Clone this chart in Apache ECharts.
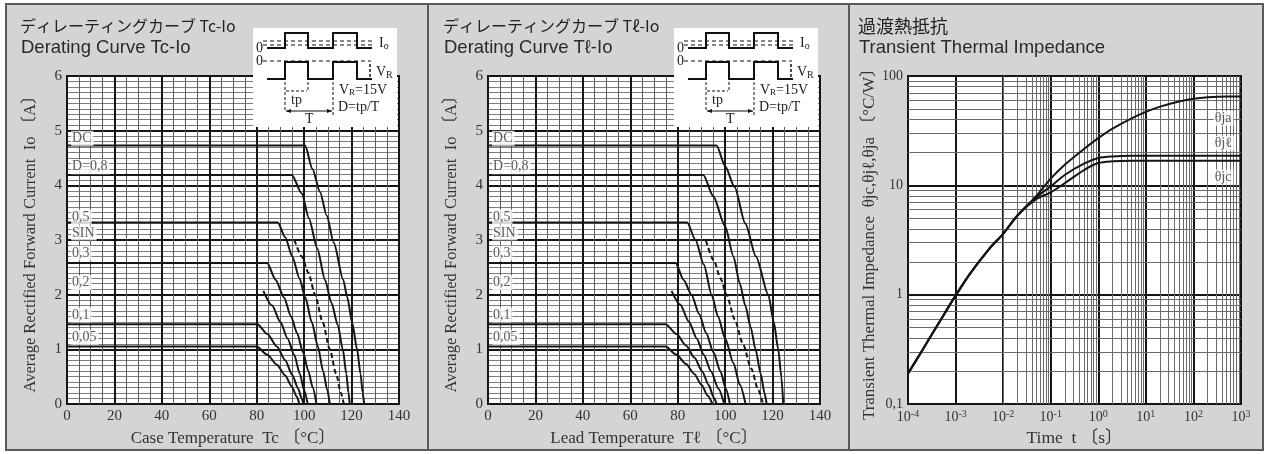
<!DOCTYPE html>
<html>
<head>
<meta charset="utf-8">
<script src="https://cdn.jsdelivr.net/npm/echarts@6/dist/echarts.min.js"></script>
<style>
html, body { margin: 0; padding: 0; background: #fff; }
#wrap { position: relative; width: 1271px; height: 454px; overflow: hidden; }
.panel { position: absolute; top: 3px; height: 448px; background: #d4d4d4; border: 2px solid #5a5a5a; box-sizing: border-box; }
#chart { position: absolute; left: 0; top: 0; width: 1271px; height: 454px; }
</style>
</head>
<body>
<div id="wrap">
  <div class="panel" style="left:5px;width:424px"></div>
  <div class="panel" style="left:427px;width:423px"></div>
  <div class="panel" style="left:848px;width:416px"></div>
  <div id="chart"></div>
</div>
<script>
// curve names, same order for both derating charts
const curveNames = ['DC', 'D=0,8', '0,5', 'SIN', '0,3', '0,2', '0,1', '0,05'];
// where the curve names sit (Io value, left side of the plot)
const curveLabelIo = [4.86, 4.34, 3.42, 3.13, 2.76, 2.22, 1.63, 1.22];

// Derating Tc-Io : [Tc (°C), Io (A)]
const tcDC = [[0,4.73],[100.4,4.73],[103.5,4.3],[106.7,3.88],[109.5,3.45],[112.5,2.95],[116.5,2.27],[118.2,1.95],[120.3,1.48],[122.3,1.0],[123.8,0.55],[124.7,0.2],[125.3,0]];
const tcD08 = [[0,4.19],[94.8,4.19],[99,3.85],[102,3.4],[105.5,2.85],[108.8,2.27],[111.5,1.85],[114.2,1.44],[116.3,1.0],[117.8,0.55],[118.7,0.2],[119.2,0]];
const tcD05 = [[0,3.32],[88.9,3.32],[92,3.05],[95,2.7],[98,2.3],[100.5,1.95],[103.2,1.5],[105.8,1.05],[108,0.6],[109.8,0.25],[110.8,0]];
const tcSIN = [[95.9,3.0],[99,2.7],[101.8,2.4],[104.6,2.0],[107.8,1.5],[110.8,1.0],[113.5,0.55],[115.5,0.2],[116.7,0]];
const tcD03 = [[0,2.58],[84.4,2.58],[88,2.27],[91.5,1.95],[94.5,1.6],[97,1.3],[99.5,0.95],[101.8,0.6],[103.6,0.3],[105.2,0]];
const tcD02 = [[82.8,2.07],[86.5,1.8],[90,1.5],[93,1.2],[95.8,0.9],[98.2,0.55],[100,0.25],[101.5,0]];
const tcD01 = [[0,1.46],[80.3,1.46],[84.5,1.28],[88.5,1.05],[92,0.8],[95,0.53],[97.5,0.28],[99,0.1],[99.7,0]];
const tcD005 = [[0,1.05],[80,1.05],[84.5,0.9],[88.5,0.72],[92,0.52],[94.8,0.32],[96.8,0.14],[98,0]];

// Derating Tl-Io : [Tl (°C), Io (A)]
const tlDC = [[0,4.73],[96.4,4.73],[100,4.35],[104,3.97],[108.5,3.3],[113,2.7],[118.2,2.0],[120.5,1.5],[122.4,1.0],[123.7,0.5],[124.5,0]];
const tlD08 = [[0,4.19],[90.8,4.19],[95,3.8],[100,3.25],[103.5,2.7],[106.2,2.2],[108.5,1.8],[110.8,1.4],[112.8,1.0],[115,0.55],[116.6,0.2],[117.5,0]];
const tlD05 = [[0,3.32],[84,3.32],[87.5,3.0],[91,2.55],[94.3,2.0],[97,1.6],[100,1.2],[103.5,0.75],[106.2,0.35],[108.6,0]];
const tlSIN = [[91.9,2.99],[95.5,2.6],[98,2.3],[100.6,2.0],[104,1.55],[107.5,1.1],[111,0.65],[114,0.25],[116,0]];
const tlD03 = [[0,2.58],[79.1,2.58],[82.5,2.27],[85.8,2.0],[89,1.65],[92,1.3],[95,0.95],[98,0.6],[100.3,0.28],[102,0]];
const tlD02 = [[77.4,2.07],[81,1.82],[84.8,1.5],[88,1.2],[91,0.9],[94,0.6],[97.2,0.28],[99.6,0]];
const tlD01 = [[0,1.46],[74.9,1.46],[79.5,1.28],[83.5,1.07],[87,0.85],[90.3,0.6],[93,0.35],[95.2,0.12],[96.4,0]];
const tlD005 = [[0,1.05],[74.9,1.05],[79.5,0.9],[83.5,0.73],[87,0.55],[90,0.35],[92.7,0.15],[94.6,0]];

// Transient thermal impedance : [t (s), Z (°C/W)]
const zja = [[1e-4,0.19],[2e-4,0.31],[5e-4,0.6],[1e-3,0.98],[2e-3,1.55],[5e-3,2.6],[1e-2,3.6],[2e-2,5.3],[5e-2,8.0],[0.1,11.5],[0.2,15.5],[0.5,21.5],[1,27],[2,33],[5,41],[10,47],[20,52.5],[50,58.5],[100,62],[200,64],[500,65],[1000,65]];
const zjl = [[1e-4,0.19],[2e-4,0.31],[5e-4,0.6],[1e-3,0.98],[2e-3,1.55],[5e-3,2.6],[1e-2,3.6],[2e-2,5.3],[5e-2,7.8],[0.1,9.8],[0.2,12.5],[0.5,15.8],[1,17.8],[2,18.4],[5,18.6],[1000,18.6]];
const zjc = [[1e-4,0.19],[2e-4,0.31],[5e-4,0.6],[1e-3,0.98],[2e-3,1.55],[5e-3,2.6],[1e-2,3.6],[2e-2,5.3],[5e-2,7.5],[0.1,8.6],[0.2,10.5],[0.5,13.8],[1,16.0],[2,16.6],[5,16.8],[1000,16.8]];
const thetaNames = ['θja', 'θjℓ', 'θjc'];
const thetaLabelZ = [41, 24.2, 11.9];

const serif = '"Liberation Serif","DejaVu Serif","Noto Sans CJK JP",serif';
const ink = '#151515';

// log grid minor lines (2..9 of every decade)
const minorT = [], minorZ = [];
for (let e = -4; e < 3; e++) for (let m = 2; m <= 9; m++) minorT.push(m * Math.pow(10, e));
for (let e = -1; e < 2; e++) for (let m = 2; m <= 9; m++) minorZ.push(m * Math.pow(10, e));

function linAxes(idx, xName) {
    const lab = { fontFamily: serif, fontSize: 15, color: '#333' };
    return {
        x: {
            type: 'value', gridIndex: idx, min: 0, max: 140, interval: 20,
            name: xName, nameLocation: 'middle', nameGap: 26,
            nameTextStyle: { fontFamily: serif, fontSize: 17, color: '#333' },
            axisLine: { show: false }, axisTick: { show: false },
            axisLabel: Object.assign({ margin: 5 }, lab),
            splitLine: { show: true, lineStyle: { color: ink, width: 2 } },
            minorTick: { show: true, splitNumber: 4, length: 0 },
            minorSplitLine: { show: true, lineStyle: { color: '#5e5e5e', width: 1 } }
        },
        y: {
            type: 'value', gridIndex: idx, min: 0, max: 6, interval: 1,
            name: 'Average Rectified Forward Current  Io 〔A〕', nameLocation: 'middle', nameGap: 28, nameRotate: 90,
            nameTextStyle: { fontFamily: serif, fontSize: 16.5, color: '#333' },
            axisLine: { show: false }, axisTick: { show: false },
            axisLabel: Object.assign({ margin: 5 }, lab),
            splitLine: { show: true, lineStyle: { color: ink, width: 2 } },
            minorTick: { show: true, splitNumber: 10, length: 0 },
            minorSplitLine: { show: true, lineStyle: { color: '#7c7c7c', width: 1 } }
        }
    };
}

function curveSeries(idx, curves) {
    const out = curves.map((d, i) => ({
        type: 'line', xAxisIndex: idx, yAxisIndex: idx, data: d, z: 5,
        symbol: 'none', smooth: 0.25, smoothMonotone: 'x',
        lineStyle: { color: ink, width: 2, type: curveNames[i] === 'SIN' ? [5, 3] : 'solid' }
    }));
    out.push({
        type: 'scatter', xAxisIndex: idx, yAxisIndex: idx, z: 6, symbolSize: 1,
        itemStyle: { color: 'rgba(0,0,0,0)' },
        data: curveNames.map((n, i) => ({ name: n, value: [1.5, curveLabelIo[i]] })),
        label: {
            show: true, position: 'right', distance: 0, formatter: p => p.name,
            fontFamily: serif, fontSize: 14, color: '#333', backgroundColor: '#fff', padding: [1, 2, 0, 1]
        }
    });
    return out;
}

// waveform inset drawn in pixels (it is a sketch, not data)
function inset(ox, oy) {
    const P = pts => pts.map(p => [ox + p[0], oy + p[1]]);
    const z = 60;
    const txt = (x, y, text, extra) => ({
        type: 'text', x: ox + x, y: oy + y, z: z + 1,
        style: Object.assign({ text: text, fontFamily: serif, fontSize: 14, fill: '#222', textVerticalAlign: 'middle' }, extra || {})
    });
    const line = (pts, w, dash) => ({
        type: 'polyline', z: z + 1, shape: { points: P(pts) },
        style: { stroke: '#111', lineWidth: w, fill: null, lineDash: dash || null }
    });
    const tri = (pts) => ({ type: 'polygon', z: z + 1, shape: { points: P(pts) }, style: { fill: '#111' } });
    return [
        { type: 'rect', z: z, shape: { x: ox, y: oy, width: 144, height: 99 }, style: { fill: '#fff' } },
        txt(3, 20, '0'),
        line([[10, 13], [122, 13]], 1, [4, 3]),
        line([[10, 17], [122, 17]], 1, [4, 3]),
        line([[14, 20], [32, 20], [32, 5], [55, 5], [55, 20], [80, 20], [80, 5], [104, 5], [104, 20], [119, 20]], 2),
        txt(126, 15, 'I{s|o}', { rich: { s: { fontSize: 10, fontFamily: serif, padding: [6, 0, 0, 0] } } }),
        txt(3, 33, '0'),
        line([[10, 33], [118, 33]], 1, [4, 3]),
        line([[14, 51], [32, 51], [32, 34], [55, 34], [55, 51], [80, 51], [80, 34], [104, 34], [104, 51], [119, 51]], 2),
        line([[117, 36], [117, 50]], 1.5, [3, 2]),
        txt(123, 44, 'V{s|R}', { rich: { s: { fontSize: 10, fontFamily: serif, padding: [6, 0, 0, 0] } } }),
        line([[32, 54], [32, 82]], 1, [3, 2]),
        line([[55, 54], [55, 64]], 1, [3, 2]),
        line([[80, 54], [80, 88]], 1, [3, 2]),
        line([[33, 63], [54, 63]], 1, [3, 2]),
        txt(38, 72, 'tp'),
        line([[33, 83], [79, 83]], 1),
        tri([[33, 83], [38, 81], [38, 85]]),
        tri([[79, 83], [74, 81], [74, 85]]),
        txt(52, 91, 'T'),
        txt(86, 62, 'V{s|R}=15V', { rich: { s: { fontSize: 9, fontFamily: serif, padding: [5, 0, 0, 0] } } }),
        txt(85, 79, 'D=tp/T')
    ];
}

function titles(x, jp, en, jpSize) {
    return [
        { type: 'text', x: x, y: 26, z: 10, style: { text: jp, fontFamily: '"Noto Sans CJK JP"', fontSize: jpSize, fill: '#222', textVerticalAlign: 'middle' } },
        { type: 'text', x: x + 1, y: 48, z: 10, style: { text: en, fontFamily: '"Liberation Sans","Noto Sans",sans-serif', fontSize: 18.5, fill: '#2a2a2a', textVerticalAlign: 'middle' } }
    ];
}

const a1 = linAxes(0, 'Case Temperature  Tc 〔°C〕');
const a2 = linAxes(1, 'Lead Temperature  Tℓ 〔°C〕');

const chart = echarts.init(document.getElementById('chart'));
chart.setOption({
    animation: false,
    grid: [
        { left: 67, top: 76, width: 332, height: 328, show: true, backgroundColor: '#fff', borderColor: ink, borderWidth: 2 },
        { left: 488, top: 76, width: 332, height: 328, show: true, backgroundColor: '#fff', borderColor: ink, borderWidth: 2 },
        { left: 908, top: 76, width: 333, height: 328, show: true, backgroundColor: '#fff', borderColor: ink, borderWidth: 2 }
    ],
    xAxis: [a1.x, a2.x, {
        type: 'log', gridIndex: 2, min: 1e-4, max: 1e3, logBase: 10, splitNumber: 7,
        name: 'Time  t 〔s〕', nameLocation: 'middle', nameGap: 26,
        nameTextStyle: { fontFamily: serif, fontSize: 17.5, color: '#333' },
        axisLine: { show: false }, axisTick: { show: false },
        axisLabel: {
            margin: 5, fontFamily: serif, fontSize: 14, color: '#333',
            formatter: v => '{b|10}{s|' + Math.round(Math.log10(v)) + '}',
            rich: { b: { fontFamily: serif, fontSize: 14, color: '#333' }, s: { fontFamily: serif, fontSize: 10, color: '#333', padding: [0, 0, 7, 0] } }
        },
        splitLine: { show: true, lineStyle: { color: ink, width: 2 } }
    }],
    yAxis: [a1.y, a2.y, {
        type: 'log', gridIndex: 2, min: 0.1, max: 100, logBase: 10, splitNumber: 3,
        name: 'Transient Thermal Impedance  θjc,θjℓ,θja 〔°C/W〕', nameLocation: 'middle', nameGap: 30, nameRotate: 90,
        nameTextStyle: { fontFamily: serif, fontSize: 17, color: '#333' },
        axisLine: { show: false }, axisTick: { show: false },
        axisLabel: {
            margin: 5, fontFamily: serif, fontSize: 14, color: '#333',
            formatter: v => { const e = Math.round(Math.log10(v)); return e < 0 ? '0,1' : String(Math.pow(10, e)); }
        },
        splitLine: { show: true, lineStyle: { color: ink, width: 2 } }
    }],
    series: [].concat(
        curveSeries(0, [tcDC, tcD08, tcD05, tcSIN, tcD03, tcD02, tcD01, tcD005]),
        curveSeries(1, [tlDC, tlD08, tlD05, tlSIN, tlD03, tlD02, tlD01, tlD005]),
        [
            {
                type: 'line', xAxisIndex: 2, yAxisIndex: 2, data: [], silent: true, z: 1,
                markLine: {
                    symbol: ['none', 'none'], silent: true, animation: false, label: { show: false },
                    lineStyle: { color: '#6a6a6a', width: 1, type: 'solid' },
                    emphasis: { disabled: true },
                    data: minorT.map(v => ({ xAxis: v })).concat(minorZ.map(v => ({ yAxis: v })))
                }
            }
        ],
        [zja, zjl, zjc].map(d => ({
            type: 'line', xAxisIndex: 2, yAxisIndex: 2, data: d, z: 5,
            symbol: 'none', smooth: 0.3, lineStyle: { color: ink, width: 2 }
        })),
        [{
            type: 'scatter', xAxisIndex: 2, yAxisIndex: 2, z: 6, symbolSize: 1,
            itemStyle: { color: 'rgba(0,0,0,0)' },
            data: thetaNames.map((n, i) => ({ name: n, value: [260, thetaLabelZ[i]] })),
            label: {
                show: true, position: 'right', distance: 0, formatter: p => p.name,
                fontFamily: serif, fontSize: 14, color: '#333', backgroundColor: '#fff', padding: [1, 2, 0, 1]
            }
        }]
    ),
    graphic: [].concat(
        titles(20, 'ディレーティングカーブ Tc-Io', 'Derating Curve Tc-Io', 16),
        titles(443, 'ディレーティングカーブ Tℓ-Io', 'Derating Curve Tℓ-Io', 16),
        titles(858, '過渡熱抵抗', 'Transient Thermal Impedance', 18),
        inset(253, 28),
        inset(674, 28)
    )
});
</script>
</body>
</html>
